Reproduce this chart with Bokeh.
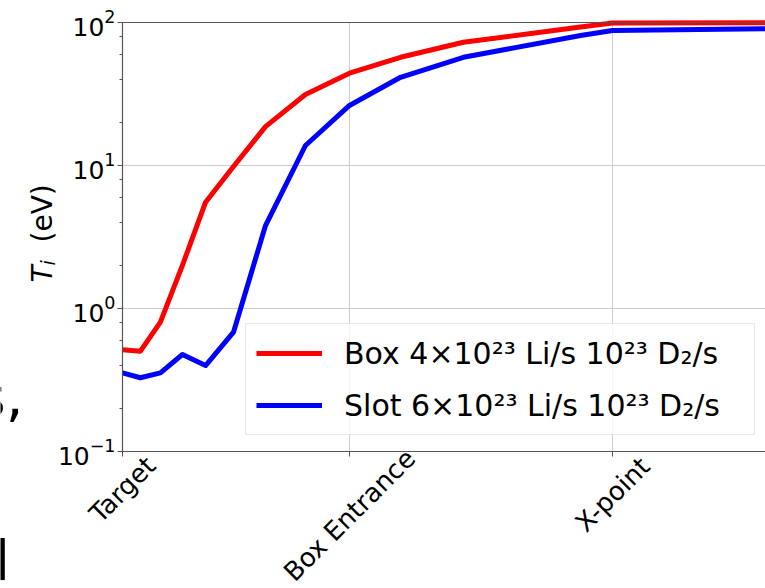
import math
from bokeh.plotting import figure
from bokeh.models import (Range1d, FixedTicker, LinearAxis, LogAxis, Legend, LegendItem,
                          CustomJSTickFormatter)
from bokeh.core.properties import value
from bokeh.embed import file_html
from bokeh.resources import INLINE

# ---------------- data ----------------
tick_labels = ["Target", "Box Entrance", "X-point"]
tick_pos = [0.0, 1.0, 2.159]
y_decades = [0.1, 1.0, 10.0, 100.0]

pos = [0.0, 0.079, 0.167, 0.264, 0.366, 0.489, 0.630, 0.806, 1.0, 1.225, 1.502, 2.018, 2.159, 2.833]
box_ti = [0.514, 0.503, 0.802, 2.0, 5.54, 9.84, 18.7, 31.4, 44.2, 57.1, 72.8, 93.0, 99.2, 99.5]
slot_ti = [0.355, 0.328, 0.355, 0.477, 0.399, 0.683, 3.80, 13.8, 26.3, 41.4, 57.1, 81.1, 87.9, 90.4]

box_label = "Box 4×10²³ Li/s 10²³ D₂/s"
slot_label = "Slot 6×10²³ Li/s 10²³ D₂/s"

X_LIM = (0.0, 2.833)
Y_LIM = (0.1, 100.0)

# ---------------- geometry (pixels of the 765x588 page) ----------------
W, H = 765, 588
LEFT, TOP, BOTTOM = 122, 22, 451
PX_PER_X = (W - LEFT) / (X_LIM[1] - X_LIM[0])
PX_PER_DEC = (BOTTOM - TOP) / math.log10(Y_LIM[1] / Y_LIM[0])


def sx(px):
    return X_LIM[0] + (px - LEFT) / PX_PER_X


def sy(py):
    return Y_LIM[1] * 10 ** (-(py - TOP) / PX_PER_DEC)


FONT = "DejaVu Sans"
SPINE = "#555555"
GRID = "#cccccc"

p = figure(width=W, height=H, y_axis_type="log", output_backend="svg", toolbar_location=None,
           x_range=Range1d(sx(0), sx(W)), y_range=Range1d(sy(H), sy(0)),
           x_axis_location=None, y_axis_location=None,
           min_border=0, min_border_left=0, min_border_right=0,
           min_border_top=0, min_border_bottom=0)
p.outline_line_color = None
p.xgrid.visible = False
p.ygrid.visible = False
p.background_fill_color = "white"
p.border_fill_color = "white"

# grid lines at the major ticks, limited to the axes box
p.segment(x0=tick_pos, y0=[Y_LIM[0]] * len(tick_pos), x1=tick_pos, y1=[Y_LIM[1]] * len(tick_pos),
          line_color=GRID, line_width=1)
p.segment(x0=[X_LIM[0]] * len(y_decades), y0=y_decades, x1=[X_LIM[1]] * len(y_decades),
          y1=y_decades, line_color=GRID, line_width=1)

# y axis (log)
yax = LogAxis(fixed_location=X_LIM[0], bounds=Y_LIM)
yax.axis_line_color = SPINE
yax.axis_line_width = 1.2
yax.major_tick_line_color = SPINE
yax.minor_tick_line_color = SPINE
yax.major_tick_in = 0
yax.major_tick_out = 5
yax.minor_tick_in = 0
yax.minor_tick_out = 3
yax.major_label_standoff = 2
yax.major_label_text_font = FONT
yax.major_label_text_font_size = "25px"
yax.major_label_text_color = "black"
p.add_layout(yax, "left")

# x axis (ticks only; labels drawn centred under the ticks below)
xax = LinearAxis(fixed_location=Y_LIM[0], bounds=X_LIM, ticker=FixedTicker(ticks=tick_pos),
                 formatter=CustomJSTickFormatter(code="return ''"))
xax.axis_line_color = SPINE
xax.axis_line_width = 1.2
xax.major_tick_line_color = SPINE
xax.major_tick_in = 0
xax.major_tick_out = 5
xax.minor_tick_line_color = None
p.add_layout(xax, "below")

# top spine
top_axis = LinearAxis(fixed_location=Y_LIM[1], bounds=X_LIM, ticker=FixedTicker(ticks=[]),
                      axis_line_color=SPINE, axis_line_width=1.2,
                      major_tick_line_color=None, minor_tick_line_color=None)
p.add_layout(top_axis, "above")

# rotated tick labels, centred on their tick (like matplotlib ha='center')
XFS = 26
lab_y = []
for t in tick_labels:
    half = (len(t) * 0.55 * XFS + 1.164 * XFS) / (2 * math.sqrt(2))
    cy = min(BOTTOM - 3 + half, H - 2 - half)
    lab_y.append(sy(cy))
p.text(x=tick_pos, y=lab_y, text=tick_labels, angle=45, angle_units="deg",
       text_font=value(FONT), text_font_size=f"{XFS}px", text_align="center",
       text_baseline="middle", text_color="black")

# lines
r_box = p.line(pos, box_ti, line_color="#ff0000", line_width=5, line_join="round")
r_slot = p.line(pos, slot_ti, line_color="#0000ff", line_width=5, line_join="round")

legend = Legend(items=[LegendItem(label=box_label, renderers=[r_box]),
                       LegendItem(label=slot_label, renderers=[r_slot])],
                location=(245, H - 435), margin=0, padding=10, spacing=14,
                glyph_width=66, glyph_height=38, label_height=38, label_standoff=22,
                label_width=400,
                label_text_font=FONT, label_text_font_size="30px", label_text_color="black",
                border_line_color="#d0d0d0", border_line_width=1,
                background_fill_color="white", background_fill_alpha=0.8)
p.add_layout(legend)

# y axis label: T_i (eV)
YFS = 28
p.text(x=[sx(42)], y=[sy(282)], text=["T"], angle=90, angle_units="deg",
       text_font=value(FONT), text_font_style="italic", text_font_size=f"{YFS}px",
       text_align="left", text_baseline="alphabetic", text_color="black")
p.text(x=[sx(47)], y=[sy(265)], text=["i"], angle=90, angle_units="deg",
       text_font=value(FONT), text_font_style="italic", text_font_size="19px",
       text_align="left", text_baseline="alphabetic", text_color="black")
p.text(x=[sx(42)], y=[sy(242)], text=["(eV)"], angle=90, angle_units="deg",
       text_font=value(FONT), text_font_size=f"{YFS}px",
       text_align="left", text_baseline="alphabetic", text_color="black")

# fragments of a neighbouring panel's text, cut by the image edge
p.text(x=[sx(23)], y=[sy(396)], text=["s,"], text_font=value(FONT), text_font_size="56px",
       text_align="right", text_baseline="alphabetic", text_color="black")
p.text(x=[sx(-6)], y=[sy(560)], text=["l"], text_font=value(FONT), text_font_size="56px",
       text_align="left", text_baseline="alphabetic", text_color="black")

open("out.html", "w").write(file_html(p, INLINE))
